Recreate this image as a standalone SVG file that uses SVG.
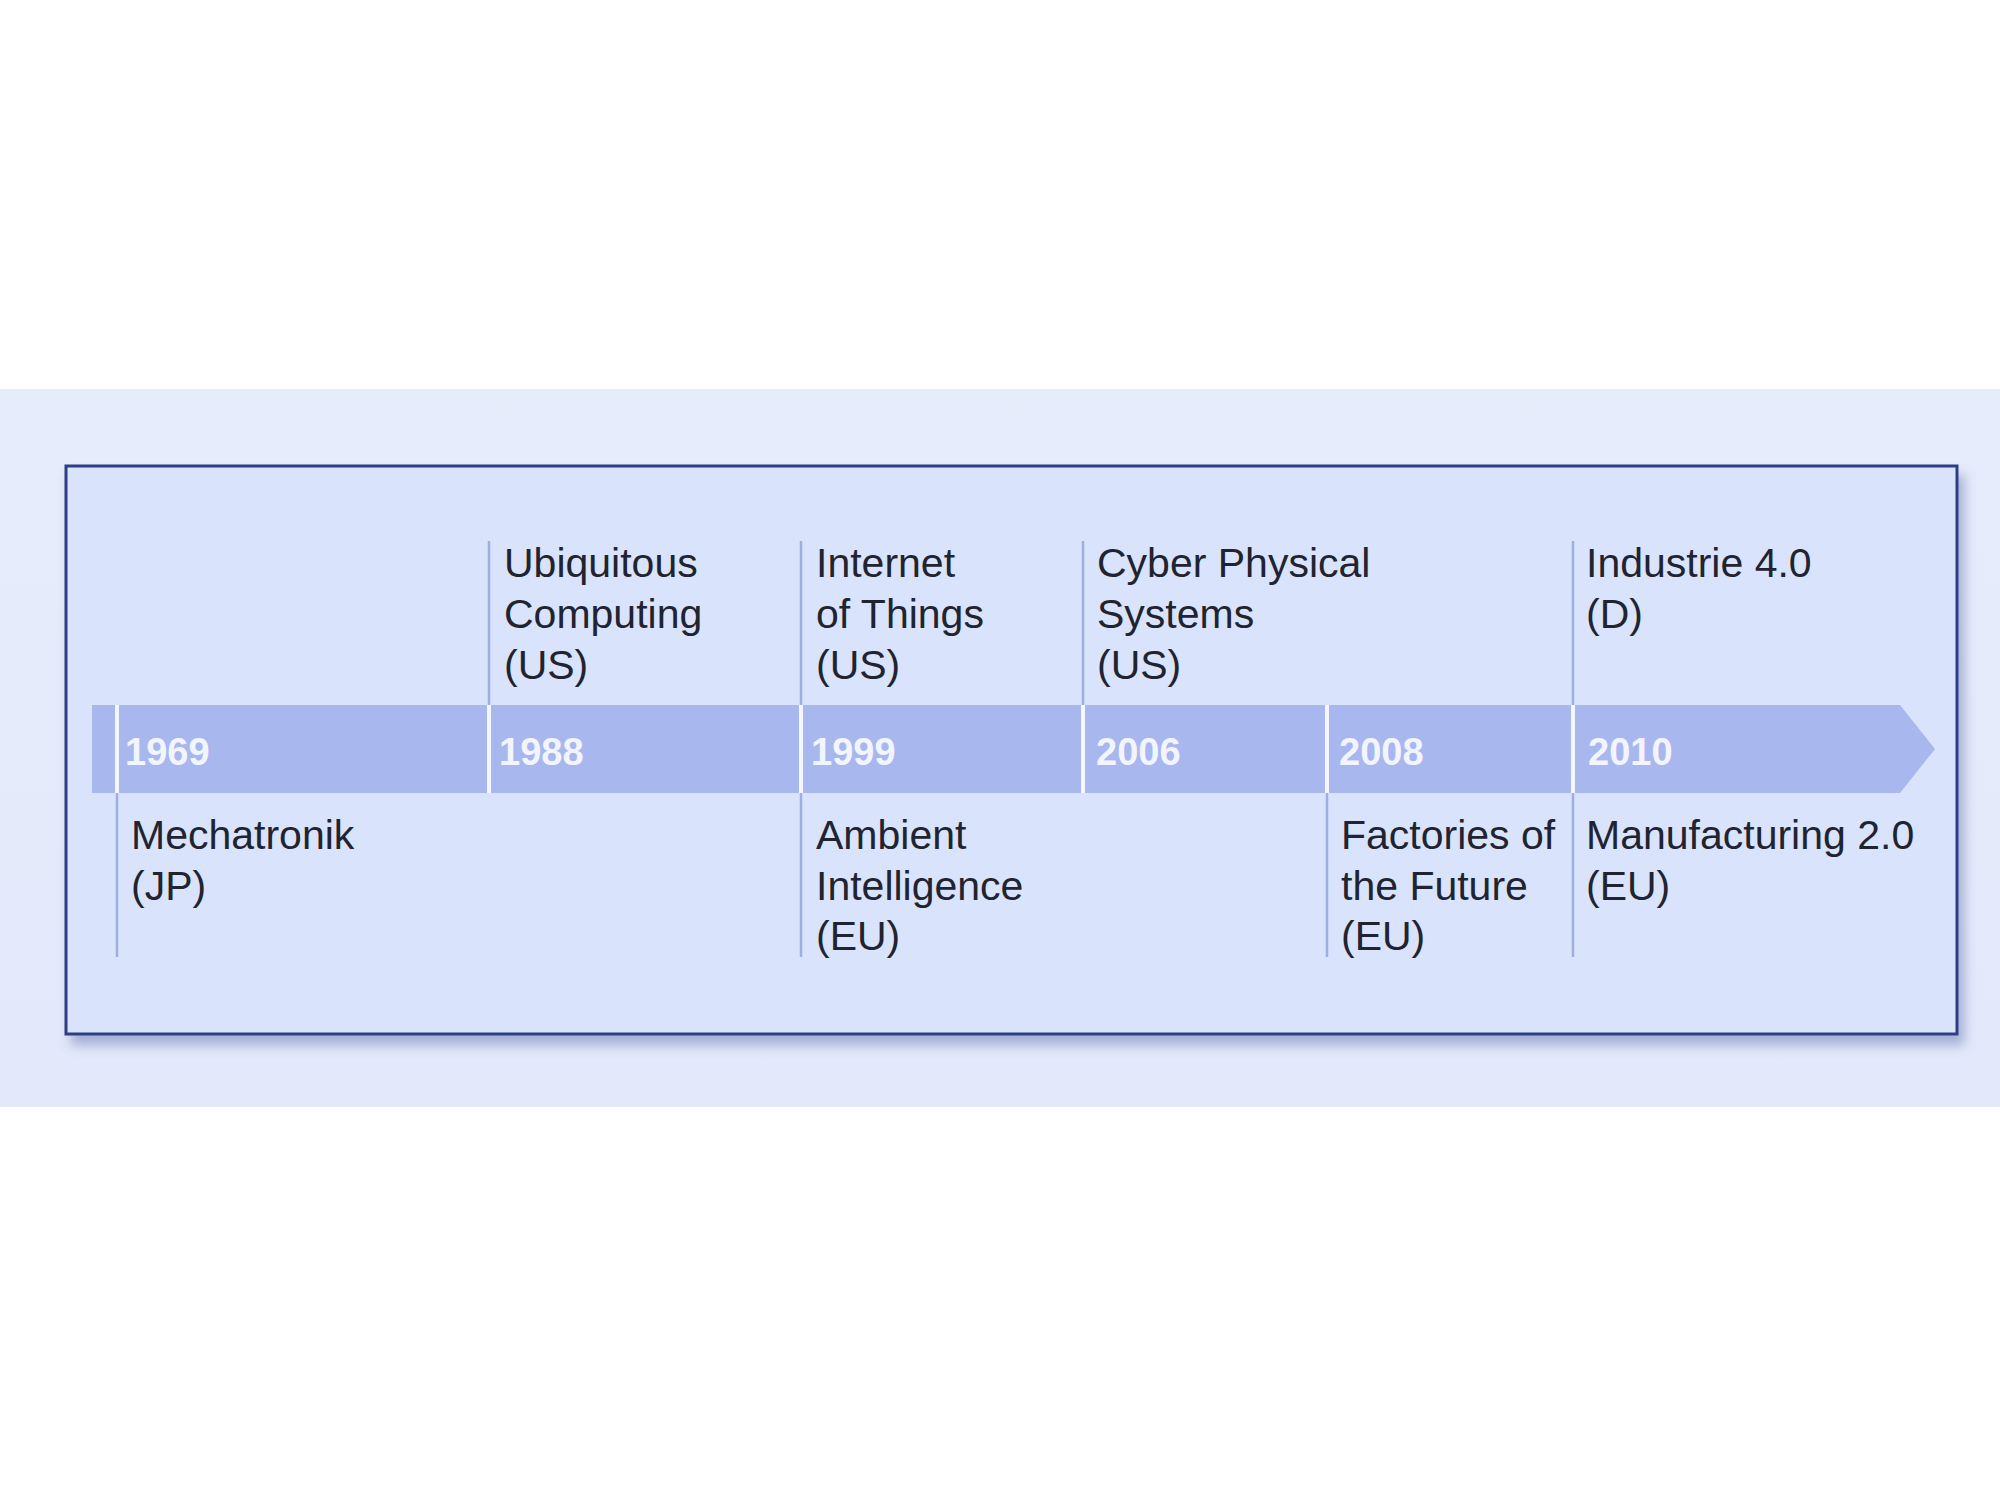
<svg xmlns="http://www.w3.org/2000/svg" width="2000" height="1500" viewBox="0 0 2000 1500">
  <style>
    .lbl { font-family: "Liberation Sans", Arial, sans-serif; font-size: 41px; fill: #1f2430; }
    .yr { font-family: "Liberation Sans", Arial, sans-serif; font-size: 38px; font-weight: bold; fill: #f2f5ff; }
    .tick { stroke: #9eaee0; stroke-width: 2.5; fill: none; }
    .sep { stroke: #f4f7ff; stroke-width: 4; fill: none; }
  </style>
  <defs>
    <linearGradient id="bg" x1="0" y1="0" x2="0" y2="1">
      <stop offset="0" stop-color="#e6ecfa"/>
      <stop offset="1" stop-color="#e3e9fb"/>
    </linearGradient>
    <filter id="shadow" x="-5%" y="-5%" width="110%" height="120%">
      <feGaussianBlur in="SourceAlpha" stdDeviation="6"/>
      <feOffset dx="6" dy="10" result="b"/>
      <feFlood flood-color="#5a6aa8" flood-opacity="0.45"/>
      <feComposite in2="b" operator="in"/>
      <feMerge><feMergeNode/><feMergeNode in="SourceGraphic"/></feMerge>
    </filter>
  </defs>
  <rect x="0" y="0" width="2000" height="1500" fill="#ffffff"/>
  <rect x="0" y="389" width="2000" height="718" fill="url(#bg)"/>
  <g id="frame">
    <rect x="66" y="466" width="1891" height="568" fill="#d9e3fb" stroke="#2d3c86" stroke-width="3" filter="url(#shadow)"/>
  </g>
  <g id="timeline">
    <polygon points="92,705 1900,705 1935,749 1900,793 92,793" fill="#a8b8ef"/>
  </g>
  <g id="connectors">
    <line class="tick" x1="489" y1="541" x2="489" y2="705"/>
    <line class="tick" x1="801" y1="541" x2="801" y2="705"/>
    <line class="tick" x1="1083" y1="541" x2="1083" y2="705"/>
    <line class="tick" x1="1573" y1="541" x2="1573" y2="705"/>
    <line class="tick" x1="117" y1="793" x2="117" y2="957"/>
    <line class="tick" x1="801" y1="793" x2="801" y2="957"/>
    <line class="tick" x1="1327" y1="793" x2="1327" y2="957"/>
    <line class="tick" x1="1573" y1="793" x2="1573" y2="957"/>
    <line class="sep" x1="117" y1="705" x2="117" y2="793"/>
    <line class="sep" x1="489" y1="705" x2="489" y2="793"/>
    <line class="sep" x1="801" y1="705" x2="801" y2="793"/>
    <line class="sep" x1="1083" y1="705" x2="1083" y2="793"/>
    <line class="sep" x1="1327" y1="705" x2="1327" y2="793"/>
    <line class="sep" x1="1573" y1="705" x2="1573" y2="793"/>
  </g>
  <g id="y1969">
    <text class="yr" x="125" y="765">1969</text>
    <text class="lbl" x="131" y="849">Mechatronik</text>
    <text class="lbl" x="131" y="900">(JP)</text>
  </g>
  <g id="y1988">
    <text class="yr" x="499" y="765">1988</text>
    <text class="lbl" x="504" y="577">Ubiquitous</text>
    <text class="lbl" x="504" y="628">Computing</text>
    <text class="lbl" x="504" y="679">(US)</text>
  </g>
  <g id="y1999">
    <text class="yr" x="811" y="765">1999</text>
    <text class="lbl" x="816" y="577">Internet</text>
    <text class="lbl" x="816" y="628">of Things</text>
    <text class="lbl" x="816" y="679">(US)</text>
    <text class="lbl" x="816" y="849">Ambient</text>
    <text class="lbl" x="816" y="900">Intelligence</text>
    <text class="lbl" x="816" y="950">(EU)</text>
  </g>
  <g id="y2006">
    <text class="yr" x="1096" y="765">2006</text>
    <text class="lbl" x="1097" y="577">Cyber Physical</text>
    <text class="lbl" x="1097" y="628">Systems</text>
    <text class="lbl" x="1097" y="679">(US)</text>
  </g>
  <g id="y2008">
    <text class="yr" x="1339" y="765">2008</text>
    <text class="lbl" x="1341" y="849">Factories of</text>
    <text class="lbl" x="1341" y="900">the Future</text>
    <text class="lbl" x="1341" y="950">(EU)</text>
  </g>
  <g id="y2010">
    <text class="yr" x="1588" y="765">2010</text>
    <text class="lbl" x="1586" y="577">Industrie 4.0</text>
    <text class="lbl" x="1586" y="628">(D)</text>
    <text class="lbl" x="1586" y="849">Manufacturing 2.0</text>
    <text class="lbl" x="1586" y="900">(EU)</text>
  </g>
</svg>
